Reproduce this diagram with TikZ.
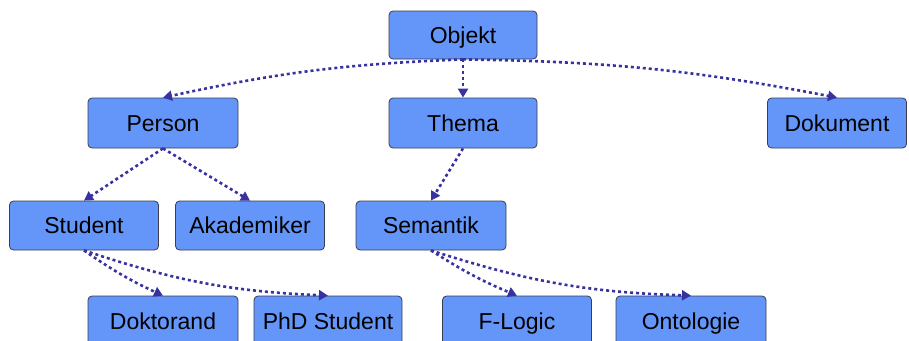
\documentclass[tikz,border=0pt]{standalone}
\usepackage{fontspec}
\setmainfont{Liberation Sans}
\usetikzlibrary{arrows.meta}
\definecolor{boxfill}{RGB}{100,150,250}
\definecolor{boxline}{RGB}{60,60,80}
\definecolor{edgecol}{RGB}{55,50,160}
\begin{document}
\begin{tikzpicture}[x=1pt,y=-1pt,
  box/.style={rectangle,rounded corners=4pt,draw=boxline,line width=0.8pt,fill=boxfill,
    inner sep=0pt,text height=18pt,text depth=2pt,font=\fontsize{23}{26}\selectfont,text=black},
  link/.style={draw=edgecol,line width=2.6pt,dash pattern=on 3pt off 3pt,
    -{Triangle[length=9pt,width=10pt]}}]
\useasboundingbox (0,0) rectangle (909,340);
\clip (0,0) rectangle (909,340);
\node[box,minimum width=148pt,minimum height=48pt] (objekt) at (463,35) {Objekt};
\node[box,minimum width=150pt,minimum height=50pt] (person) at (163,123) {Person};
\node[box,minimum width=148pt,minimum height=50pt] (thema) at (463,123) {Thema};
\node[box,minimum width=139pt,minimum height=50pt] (dokument) at (837,123) {Dokument};
\node[box,minimum width=149pt,minimum height=49pt] (student) at (84,225.5) {Student};
\node[box,minimum width=149pt,minimum height=49pt] (akademiker) at (250,225.5) {Akademiker};
\node[box,minimum width=150pt,minimum height=49pt] (semantik) at (431,225.5) {Semantik};
\node[box,minimum width=150pt,minimum height=50pt] (doktorand) at (163,321) {Doktorand};
\node[box,minimum width=148pt,minimum height=50pt] (phd) at (328,321) {PhD Student};
\node[box,minimum width=149pt,minimum height=50pt] (flogic) at (517,321) {F-Logic};
\node[box,minimum width=150pt,minimum height=50pt] (ontologie) at (691,321) {Ontologie};
\draw[link] (objekt.south) to[bend right=5] (person.north);
\draw[link] (objekt.south) -- (thema.north);
\draw[link] (objekt.south) to[bend left=5] (dokument.north);
\draw[link] (person.south) -- (student.north);
\draw[link] (person.south) -- (akademiker.north);
\draw[link] (thema.south) -- (semantik.north);
\draw[link] (student.south) to[bend right=5] (doktorand.north);
\draw[link] (student.south) to[bend right=8] (phd.north);
\draw[link] (semantik.south) to[bend right=5] (flogic.north);
\draw[link] (semantik.south) to[bend right=8] (ontologie.north);
\end{tikzpicture}
\end{document}
